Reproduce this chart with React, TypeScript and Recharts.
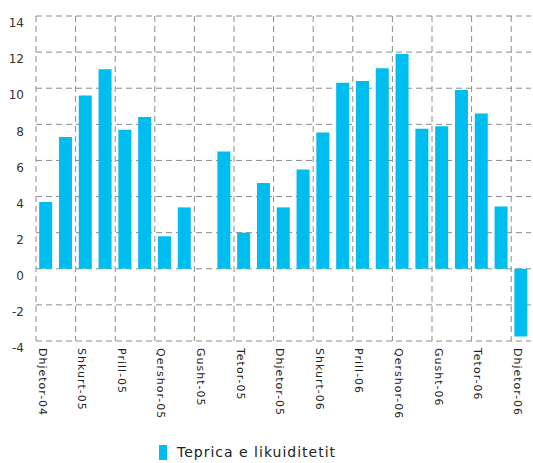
import React from 'react';
import { BarChart, Bar, XAxis, YAxis, CartesianGrid, Legend } from 'recharts';

// Monthly categories, December 2004 through December 2006
const months = [
  'Dhjetor-04', 'Janar-05', 'Shkurt-05', 'Mars-05', 'Prill-05', 'Maj-05',
  'Qershor-05', 'Korrik-05', 'Gusht-05', 'Shtator-05', 'Tetor-05', 'Nëntor-05',
  'Dhjetor-05', 'Janar-06', 'Shkurt-06', 'Mars-06', 'Prill-06', 'Maj-06',
  'Qershor-06', 'Korrik-06', 'Gusht-06', 'Shtator-06', 'Tetor-06', 'Nëntor-06',
  'Dhjetor-06',
];

// Liquidity surplus per month
const teprica = [
  3.7, 7.3, 9.6, 11.05, 7.7, 8.4, 1.8, 3.4, 0, 6.5, 2.0, 4.75,
  3.4, 5.5, 7.55, 10.3, 10.4, 11.1, 11.9, 7.75, 7.9, 9.9, 8.6, 3.45,
  -3.75,
];

const yTicks = [-4, -2, 0, 2, 4, 6, 8, 10, 12, 14];

const seriesName = 'Teprica e likuiditetit';
const barColor = '#00bdf0';
const gridColor = '#8c8c8c';
const font = '"DejaVu Sans", sans-serif';

const data = months.map((m, i) => ({ month: m, value: teprica[i] }));

const XTick = (props: any) => {
  const { x, y, payload } = props;
  return (
    <text
      x={0}
      y={0}
      dy="0.35em"
      transform={`translate(${x - 3.5},${y + 7}) rotate(90)`}
      textAnchor="start"
      fontSize={11}
      letterSpacing={1}
      fill="#222"
      fontFamily={font}
    >
      {payload.value}
    </text>
  );
};

const YTick = (props: any) => {
  const { x, y, payload } = props;
  return (
    <text
      x={x}
      y={y + 7}
      dy="0.35em"
      textAnchor="end"
      fontSize={12}
      fill="#333"
      fontFamily={font}
    >
      {payload.value}
    </text>
  );
};

const LegendContent = () => (
  <div
    style={{
      height: 22,
      display: 'flex',
      alignItems: 'center',
      paddingLeft: 159,
      fontFamily: font,
    }}
  >
    <span
      style={{
        display: 'inline-block',
        width: 8,
        height: 15,
        background: barColor,
        marginRight: 10,
      }}
    />
    <span style={{ fontSize: 14, letterSpacing: 1, color: '#222' }}>{seriesName}</span>
  </div>
);

// Vertical grid lines sit on category boundaries, every second month
const boundaryLines = ({ offset }: any) => {
  const step = offset.width / months.length;
  const pts: number[] = [];
  for (let i = 0; i < months.length; i += 2) pts.push(offset.left + i * step);
  return pts;
};

export default function App() {
  return (
    <div style={{ position: 'absolute', left: 0, top: 0, width: 533, height: 463 }}>
      <BarChart
        width={533}
        height={463}
        data={data}
        margin={{ top: 16, right: 2, left: 0, bottom: 0 }}
        barCategoryGap="16%"
      >
        <CartesianGrid
          stroke={gridColor}
          strokeDasharray="6 4"
          verticalCoordinatesGenerator={boundaryLines}
        />
        <XAxis
          dataKey="month"
          interval={1}
          tick={<XTick />}
          tickLine={false}
          axisLine={false}
          tickSize={0}
          tickMargin={0}
          height={100}
        />
        <YAxis
          domain={[-4, 14]}
          ticks={yTicks}
          tick={<YTick />}
          tickLine={false}
          axisLine={false}
          tickSize={0}
          tickMargin={12}
          width={36}
          interval={0}
        />
        <Legend verticalAlign="bottom" height={22} content={<LegendContent />} />
        <Bar dataKey="value" name={seriesName} fill={barColor} isAnimationActive={false} />
      </BarChart>
    </div>
  );
}
